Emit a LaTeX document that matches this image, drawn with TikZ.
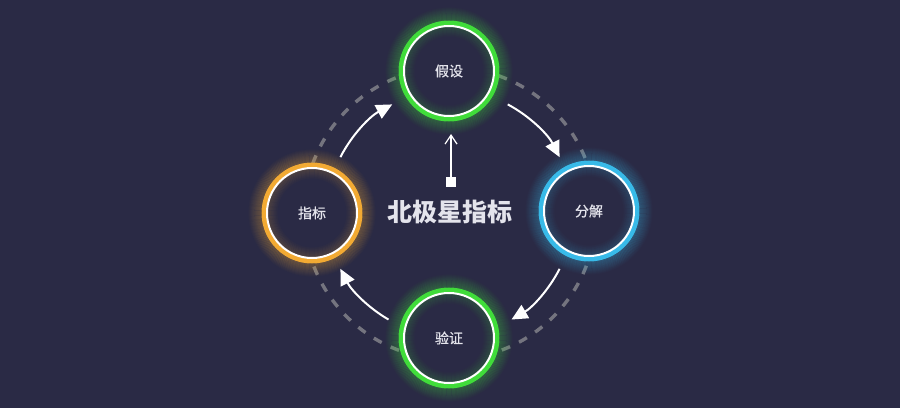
\documentclass[tikz,border=0pt]{standalone}
\usepackage{fontspec}
\newfontfamily\cjk{Noto Sans CJK SC}
\newfontfamily\cjkm[FakeBold=0.8]{Noto Sans CJK SC}
\usetikzlibrary{arrows.meta}
\definecolor{bg}{HTML}{2A2A45}
\definecolor{gr}{HTML}{40DC3A}
\definecolor{org}{HTML}{F2AA33}
\definecolor{blu}{HTML}{38BAE8}
\definecolor{dsh}{HTML}{74747F}
\definecolor{txt}{HTML}{E4E4EC}
\tikzset{
  ring/.style={circle, minimum size=96pt, inner sep=0pt, fill=bg, draw=#1, line width=5pt,
    text=txt, font=\cjkm\fontsize{14}{14}\selectfont},
  flow/.style={white, line width=2pt, -{Triangle[length=16pt,width=15pt]}},
  dashring/.style={dsh, line width=3.4pt, dash pattern=on 9pt off 10pt},
}
\begin{document}
\begin{tikzpicture}[x=1pt,y=1pt]
\fill[bg] (0,0) rectangle (900,408);
\useasboundingbox (0,0) rectangle (900,408);
\coordinate (O) at (450,195);
\draw[dashring] (450,194.5) circle (146);
% outer glows
\foreach \p/\c in {{449,337}/gr, {589,197}/blu, {449,70}/gr, {312,195}/org} {
  \foreach \r in {51,52,...,63} {
    \pgfmathsetmacro\o{0.26*(1-(\r-50)/14)}
    \draw[\c, opacity=\o, line width=1.2pt] (\p) circle (\r);
  }
}
\node[ring=gr]  (hyp) at (449,337) {假设};
\node[ring=blu] (dec) at (589,197) {分解};
\node[ring=gr]  (ver) at (449,70)  {验证};
\node[ring=org] (ind) at (312,195) {指标};
% inner glow + white ring
\foreach \n/\c in {hyp/gr, dec/blu, ver/gr, ind/org} {
  \foreach \r in {35,36,...,44} {
    \pgfmathsetmacro\o{0.14*(1-(44-\r)/10)}
    \draw[\c, opacity=\o, line width=1.2pt] (\n.center) circle (\r);
  }
  \draw[white, line width=2pt] (\n.center) circle (45);
}
% flow arrows
\draw[flow] ([shift={(153:123)}]O) arc[start angle=153, end angle=118, radius=123];
\draw[flow] ([shift={(62:123)}]O) arc[start angle=62, end angle=27, radius=123];
\draw[flow] ([shift={(-27:123)}]O) arc[start angle=-27, end angle=-60, radius=123];
\draw[flow] ([shift={(240:123)}]O) arc[start angle=240, end angle=207, radius=123];
% center
\node[text=txt, font=\cjk\bfseries\fontsize{25}{25}\selectfont] (title) at (450,196) {北极星指标};
\node[fill=white, minimum size=10pt, inner sep=0pt] (sq) at (451,226) {};
\coordinate (tip) at (451,274);
\draw[white, line width=1.2pt, -{Straight Barb[length=9pt,width=12pt,line width=1.2pt]}] (sq.north) -- (tip);
\end{tikzpicture}
\end{document}
